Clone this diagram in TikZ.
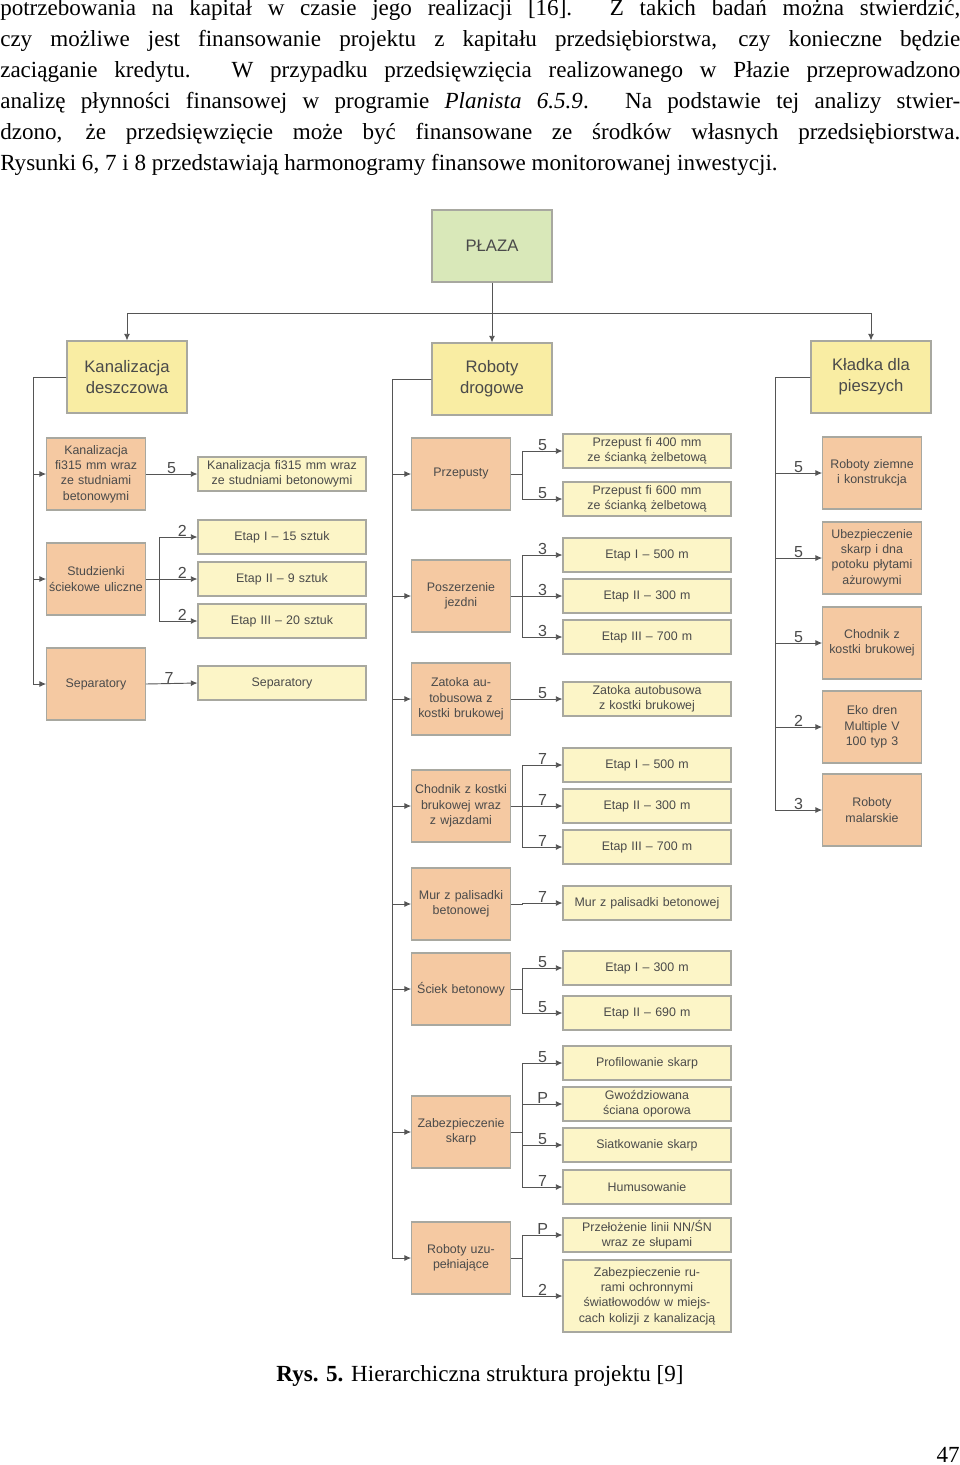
\documentclass[tikz,border=0pt]{standalone}
\usepackage{fontspec}
\setmainfont{Liberation Serif}
\newfontfamily\diag{Liberation Sans}
\usetikzlibrary{arrows.meta,calc}

\definecolor{zielony}{HTML}{D9E8B9}
\definecolor{zolty}{HTML}{F9EDA3}
\definecolor{pomar}{HTML}{F5C9A2}
\definecolor{jasny}{HTML}{FCF5C7}
\definecolor{ramka}{HTML}{A8A8A0}
\definecolor{linia}{HTML}{555555}
\definecolor{napis}{HTML}{4A4A4A}

\tikzset{
  box/.style={draw=ramka,line width=0.8pt,align=center,inner sep=1pt,text=napis,font=\diag\fontsize{9.3}{11.5}\selectfont},
  glowny/.style={box,fill=zielony,minimum width=90pt,minimum height=54pt,font=\diag\fontsize{12.5}{15.5}\selectfont},
  poz1/.style={box,fill=zolty,minimum width=90pt,minimum height=54pt,font=\diag\fontsize{12.5}{15.5}\selectfont},
  poz2/.style={box,fill=pomar,minimum width=72pt,minimum height=54pt,text width=72pt},
  poz3/.style={box,fill=jasny,minimum width=125pt,minimum height=25.5pt,text width=124pt},
  arr/.style={draw=linia,line width=0.7pt,-{Latex[length=5pt,width=4.5pt]}},
  lin/.style={draw=linia,line width=0.7pt},
  nr/.style={above=-1pt,font=\diag\fontsize{12}{12}\selectfont,text=napis,inner sep=1pt}
}

\begin{document}
\begin{tikzpicture}[x=0.75pt,y=-0.75pt]
\useasboundingbox (0,0) rectangle (960,1465);

% Tekst nad rysunkiem
\node[anchor=north west,inner sep=0pt,text width=720pt,align=justify,font=\fontsize{17.3}{23.3}\selectfont] (tekst) at (0,-1)
{potrzebowania na kapitał w czasie jego realizacji [16]. Z takich badań można stwierdzić,\linebreak
czy możliwe jest finansowanie projektu z kapitału przedsiębiorstwa, czy konieczne będzie\linebreak
zaciąganie kredytu. W przypadku przedsięwzięcia realizowanego w Płazie przeprowadzono\linebreak
analizę płynności finansowej w programie \textit{Planista 6.5.9}. Na podstawie tej analizy stwier-\linebreak
dzono, że przedsięwzięcie może być finansowane ze środków własnych przedsiębiorstwa.\linebreak
Rysunki 6, 7 i 8 przedstawiają harmonogramy finansowe monitorowanej inwestycji.};

% Poziom 0 i 1
\node[glowny] (plaza) at (492,246) {PŁAZA};
\node[poz1] (kd) at (127,377) {Kanalizacja\\deszczowa};
\node[poz1] (rd) at (492,379) {Roboty\\drogowe};
\node[poz1] (kp) at (871,377) {Kładka dla\\pieszych};
\coordinate (szyna) at (492,313);

\draw[lin] (plaza.south) -- (szyna);
\draw[arr] (szyna) -- (rd.north);
\draw[arr] (szyna) -| (kd.north);
\draw[arr] (szyna) -| (kp.north);

% Kanalizacja deszczowa
\coordinate (sk) at (33,0);
\node[poz2] (k1) at (96,474) {Kanalizacja fi315 mm wraz ze studniami betonowymi};
\node[poz2] (k2) at (96,579) {Studzienki ściekowe uliczne};
\node[poz2] (k3) at (96,684) {Separatory};
\foreach \k in {k1,k2,k3}
  \draw[arr] (kd.west) -- (kd.west -| sk) |- (\k.west);

\node[poz3] (k11) at (282,474) {Kanalizacja fi315 mm wraz ze studniami betonowymi};
\node[poz3] (k21) at (282,537) {Etap I – 15 sztuk};
\node[poz3] (k22) at (282,579) {Etap II – 9 sztuk};
\node[poz3] (k23) at (282,621) {Etap III – 20 sztuk};
\node[poz3] (k31) at (282,683) {Separatory};

\draw[arr] (k1.east) -- (k11.west) node[nr,pos=0.5] {5};
\foreach \c in {k21,k22,k23}
  \draw[arr] (k2.east) -- ++(14,0) |- (\c.west) node[nr,pos=0.8] {2};
\draw[arr] (k3.east) -- (k31.west) node[nr,pos=0.45] {7};

% Roboty drogowe
\coordinate (sr) at (392,0);
\node[poz2] (r1) at (461,474) {Przepusty};
\node[poz2] (r2) at (461,596) {Poszerzenie jezdni};
\node[poz2] (r3) at (461,699) {Zatoka autobusowa z kostki brukowej};
\node[poz2] (r4) at (461,806) {Chodnik z kostki brukowej wraz z wjazdami};
\node[poz2] (r5) at (461,904) {Mur z palisadki betonowej};
\node[poz2] (r6) at (461,989) {Ściek betonowy};
\node[poz2] (r7) at (461,1132) {Zabezpieczenie skarp};
\node[poz2] (r8) at (461,1258) {Roboty uzupełniające};
\foreach \k in {r1,r2,r3,r4,r5,r6,r7,r8}
  \draw[arr] (rd.west) -- (rd.west -| sr) |- (\k.west);

\node[poz3] (r11) at (647,451) {Przepust fi 400 mm ze ścianką żelbetową};
\node[poz3] (r12) at (647,499) {Przepust fi 600 mm ze ścianką żelbetową};
\node[poz3] (r21) at (647,555) {Etap I – 500 m};
\node[poz3] (r22) at (647,596) {Etap II – 300 m};
\node[poz3] (r23) at (647,637) {Etap III – 700 m};
\node[poz3] (r31) at (647,699) {Zatoka autobusowa z kostki brukowej};
\node[poz3] (r41) at (647,765) {Etap I – 500 m};
\node[poz3] (r42) at (647,806) {Etap II – 300 m};
\node[poz3] (r43) at (647,847) {Etap III – 700 m};
\node[poz3] (r51) at (647,903) {Mur z palisadki betonowej};
\node[poz3] (r61) at (647,968) {Etap I – 300 m};
\node[poz3] (r62) at (647,1013) {Etap II – 690 m};
\node[poz3] (r71) at (647,1063) {Profilowanie skarp};
\node[poz3] (r72) at (647,1104) {Gwoździowana ściana oporowa};
\node[poz3] (r73) at (647,1145) {Siatkowanie skarp};
\node[poz3] (r74) at (647,1187) {Humusowanie};
\node[poz3] (r81) at (647,1235) {Przełożenie linii NN/ŚN wraz ze słupami};
\node[poz3,minimum height=54pt] (r82) at (647,1296) {Zabezpieczenie rurami ochronnymi światłowodów w miejscach kolizji z kanalizacją};

\foreach \p/\c/\n in {r1/r11/5, r1/r12/5, r2/r21/3, r2/r22/3, r2/r23/3, r3/r31/5,
  r4/r41/7, r4/r42/7, r4/r43/7, r5/r51/7, r6/r61/5, r6/r62/5,
  r7/r71/5, r7/r72/P, r7/r73/5, r7/r74/7, r8/r81/P, r8/r82/2}
  \draw[arr] (\p.east) -- ++(12,0) |- (\c.west) node[nr,pos=0.75] {\n};

% Kladka dla pieszych
\coordinate (sp) at (775,0);
\node[poz2] (p1) at (872,473) {Roboty ziemne i konstrukcja};
\node[poz2] (p2) at (872,558) {Ubezpieczenie skarp i dna potoku płytami ażurowymi};
\node[poz2] (p3) at (872,643) {Chodnik z kostki brukowej};
\node[poz2] (p4) at (872,727) {Eko dren Multiple V 100 typ 3};
\node[poz2] (p5) at (872,810) {Roboty malarskie};
\foreach \k/\n in {p1/5,p2/5,p3/5,p4/2,p5/3}
  \draw[arr] (kp.west) -- (kp.west -| sp) |- (\k.west) node[nr,pos=0.75] {\n};

% Podpis
\node[font=\fontsize{17.3}{20}\selectfont] (podpis) at (480,1376) {\textbf{Rys. 5.} Hierarchiczna struktura projektu [9]};
\node[anchor=east,font=\fontsize{17.3}{20}\selectfont,inner sep=0pt] (strona) at (960,1455) {47};
\end{tikzpicture}
\end{document}
